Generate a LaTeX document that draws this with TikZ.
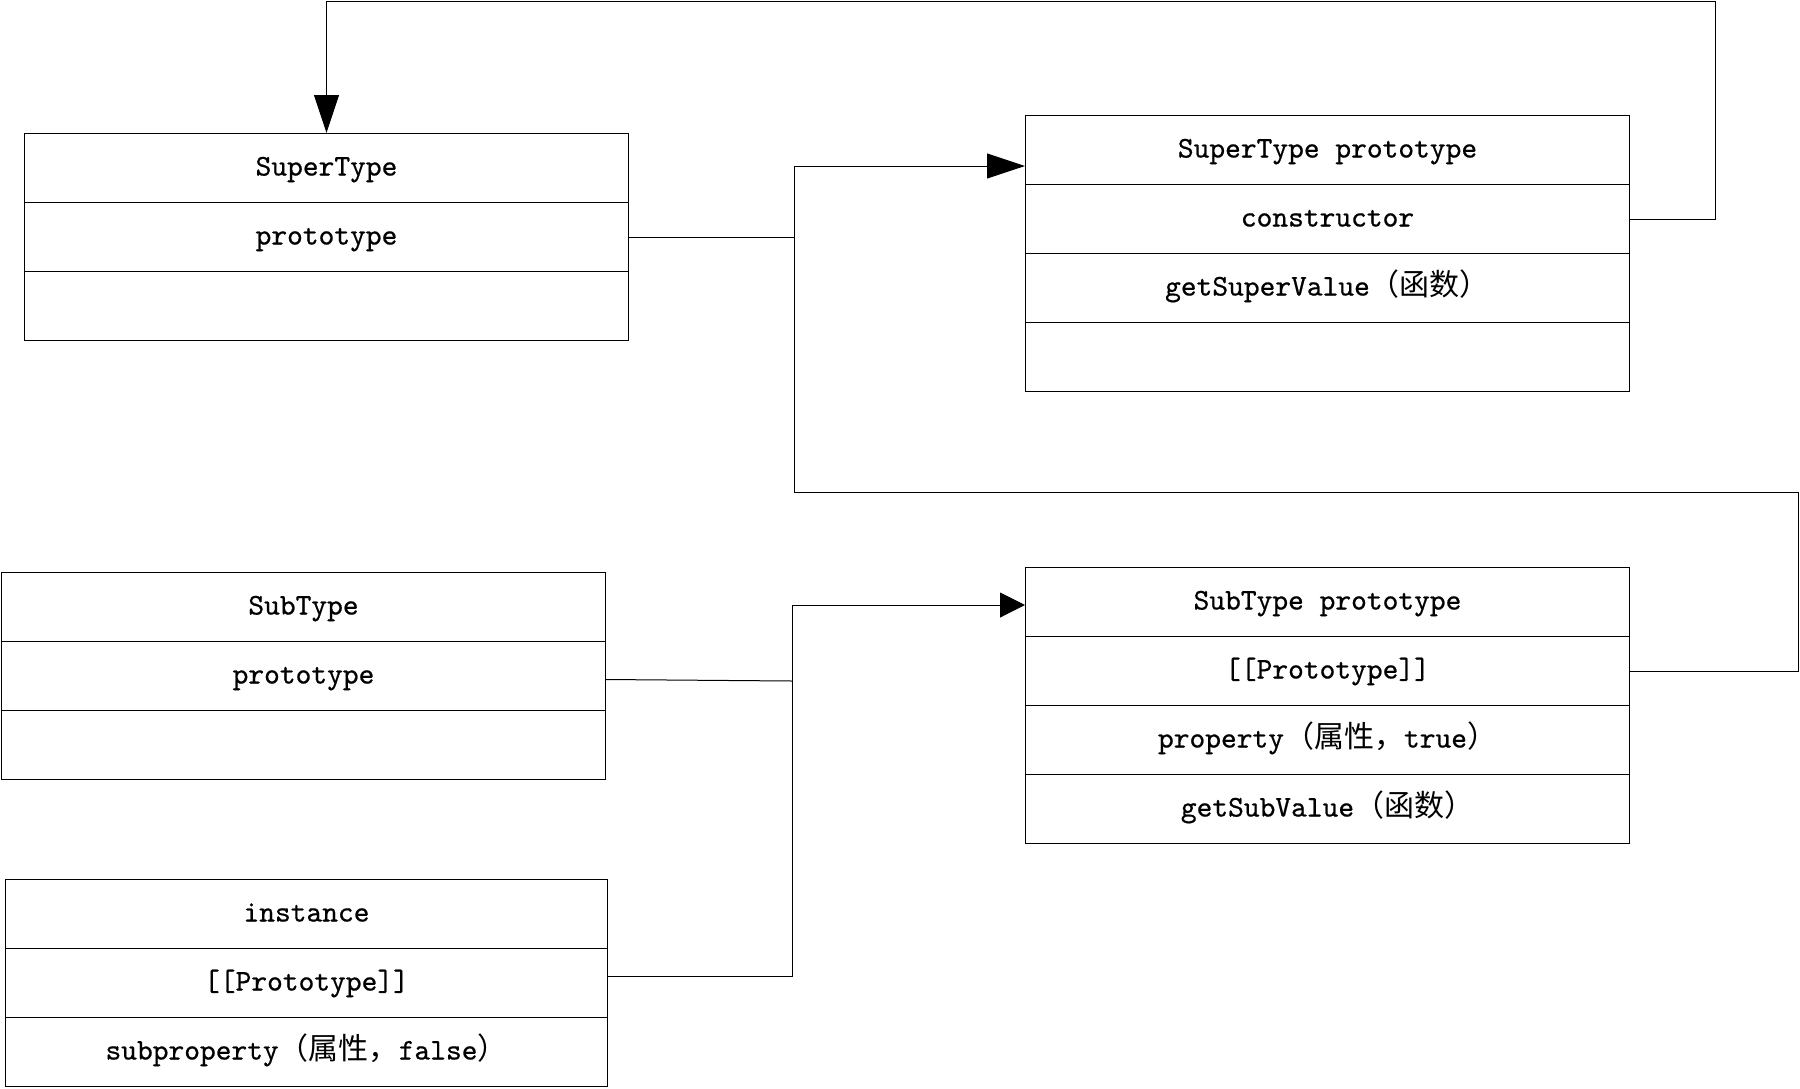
\documentclass[tikz,border=0pt]{standalone}
\usepackage{fontspec}
\newfontfamily\lab{lmmono10-regular.otf}[FakeBold=0.6]
\newfontfamily\cjk{Noto Sans CJK SC}
\usetikzlibrary{arrows.meta,calc}
\begin{document}
\begin{tikzpicture}[x=1pt,y=-1pt,
  cell/.style={draw=black, line width=1pt, minimum width=604pt, minimum height=69pt,
    inner sep=0pt, text height=21pt, text depth=6pt, anchor=north west,
    font=\fontsize{30}{34}\selectfont\lab},
  wire/.style={draw=black, line width=1pt},
  bigtip/.style={wire, -{Triangle[length=38pt,width=25pt]}},
  smalltip/.style={wire, -{Triangle[length=25pt,width=25pt]}}]
\path[use as bounding box] (0,0) rectangle (1800,1088);

% SuperType
\node[cell] (st1) at (24,133) {SuperType};
\node[cell] (st2) at (24,202) {prototype};
\node[cell] (st3) at (24,271) {};

% SuperType prototype
\node[cell] (spt1) at (1025,115) {SuperType prototype};
\node[cell] (spt2) at (1025,184) {constructor};
\node[cell] (spt3) at (1025,253) {getSuperValue{\cjk （函数）}};
\node[cell] (spt4) at (1025,322) {};

% SubType
\node[cell] (sub1) at (1,572) {SubType};
\node[cell] (sub2) at (1,641) {prototype};
\node[cell] (sub3) at (1,710) {};

% SubType prototype
\node[cell] (sbp1) at (1025,567) {SubType prototype};
\node[cell] (sbp2) at (1025,636) {[[Prototype]]};
\node[cell] (sbp3) at (1025,705) {property{\cjk （属性，}true{\cjk ）}};
\node[cell] (sbp4) at (1025,774) {getSubValue{\cjk （函数）}};

% instance
\node[cell, minimum width=602pt] (inst1) at (5,879) {instance};
\node[cell, minimum width=602pt] (inst2) at (5,948) {[[Prototype]]};
\node[cell, minimum width=602pt] (inst3) at (5,1017) {subproperty{\cjk （属性，}false{\cjk ）}};

% helper coordinates
\coordinate (tr) at (1715,1);
\coordinate (r2) at (1798,492);
\coordinate (m1) at (794,492);
\coordinate (m2) at (794,166);
\coordinate (j1) at (794,237);
\coordinate (n1) at (792,605);
\coordinate (n2) at (792,976);
\coordinate (n3) at (792,681);

% constructor -> SuperType
\draw[bigtip] (spt2.east) -- (spt2.east -| tr) -- (tr) -- (tr -| st1.north) -- (st1.north);

% SubType prototype [[Prototype]] -> SuperType prototype
\draw[bigtip] (sbp2.east) -- (sbp2.east -| r2) -- (r2) -- (m1) -- (m2) -- (m2 -| spt1.west);

% SuperType.prototype joins
\draw[wire] (st2.east) -- (j1);

% instance [[Prototype]] -> SubType prototype
\draw[smalltip] (inst2.east |- n2) -- (n2) -- (n1) -- (n1 -| sbp1.west);

% SubType.prototype joins
\draw[wire] ($(sub2.east)+(0,3.5)$) -- (n3);
\end{tikzpicture}
\end{document}
